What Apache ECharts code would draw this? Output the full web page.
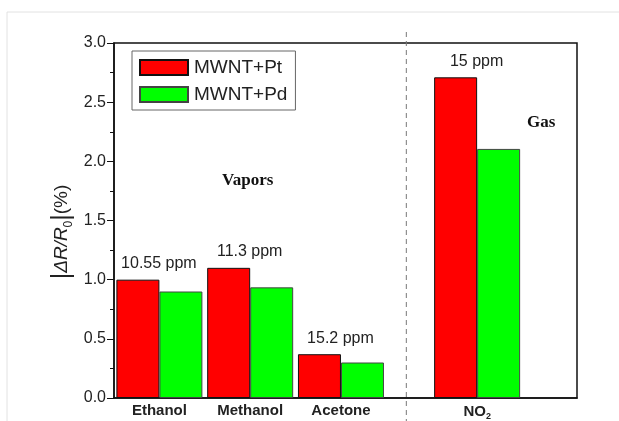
<!DOCTYPE html>
<html><head><meta charset="utf-8">
<script src="https://cdn.jsdelivr.net/npm/echarts@6/dist/echarts.min.js"></script>
<style>html,body{margin:0;padding:0;background:#fff}#c{width:619px;height:421px}</style>
</head><body><div id="c"></div>
<script>
const categories = ['Ethanol', 'Methanol', 'Acetone', 'NO2'];
const categoryPositions = [1, 2, 3, 4.5];
const concentrations = ['10.55 ppm', '11.3 ppm', '15.2 ppm', '15 ppm'];
const ptValues = [1.0, 1.1, 0.37, 2.71];
const pdValues = [0.90, 0.935, 0.30, 2.105];
const yTicks = [0, 0.5, 1.0, 1.5, 2.0, 2.5, 3.0];
const dividerX = 3.72;

const chart = echarts.init(document.getElementById('c'), null, {renderer: 'canvas'});
const font = 'Liberation Sans, Arial, sans-serif';
const labelMap = {};
categoryPositions.forEach((p, i) => labelMap[p] = categories[i]);

function barLabel() {
  return {
    show: true, position: 'top', distance: 8, offset: [21, 0],
    fontFamily: font, fontSize: 16, color: '#222',
    formatter: p => concentrations[p.dataIndex]
  };
}

chart.setOption({
  animation: false,
  grid: {left: 114, right: 42, top: 43, bottom: 22, show: true, borderColor: '#111', borderWidth: 1.5, backgroundColor: 'transparent'},
  legend: {
    orient: 'vertical', left: 132, top: 51,
    padding: [7, 8, 6, 7], itemGap: 8,
    itemWidth: 48, itemHeight: 15, icon: 'rect',
    borderColor: '#666', borderWidth: 1,
    textStyle: {fontFamily: font, fontSize: 19, color: '#222', padding: [0, 0, 0, 1]},
    data: ['MWNT+Pt', 'MWNT+Pd']
  },
  xAxis: {
    type: 'value', min: 0.5, max: 5.6,
    axisLine: {show: true, lineStyle: {color: '#111', width: 1.5}},
    axisTick: {show: false},
    splitLine: {show: false},
    axisLabel: {
      customValues: categoryPositions,
      margin: 5,
      fontFamily: font, fontSize: 15, fontWeight: 'bold', color: '#222',
      formatter: v => labelMap[v] === 'NO2' ? 'NO{sub|2}' : (labelMap[v] || ''),
      rich: {sub: {fontFamily: font, fontSize: 9, fontWeight: 'bold', color: '#222', verticalAlign: 'bottom', padding: [9, 0, 0, 0]}}
    }
  },
  yAxis: {
    type: 'value', min: 0, max: 3, interval: 0.5,
    axisLine: {show: true, lineStyle: {color: '#111', width: 1.5}},
    axisTick: {show: true, inside: false, length: 7, lineStyle: {color: '#111'}},
    minorTick: {show: true, splitNumber: 2, length: 4, lineStyle: {color: '#111'}},
    splitLine: {show: false},
    axisLabel: {
      margin: 8, fontFamily: font, fontSize: 16, color: '#222',
      customValues: yTicks,
      formatter: v => v.toFixed(1)
    }
  },
  series: [
    {
      name: 'MWNT+Pt', type: 'bar', barWidth: 43, barGap: '0%',
      itemStyle: {color: '#ff0000', borderColor: '#111', borderWidth: 1},
      label: barLabel(),
      data: categoryPositions.map((p, i) => [p, ptValues[i]])
    },
    {
      name: 'MWNT+Pd', type: 'bar', barWidth: 43, barGap: '0%',
      itemStyle: {color: '#00ff00', borderColor: '#444', borderWidth: 1},
      data: categoryPositions.map((p, i) => [p, pdValues[i]])
    }
  ]
});

const dx = chart.convertToPixel({xAxisIndex: 0}, dividerX);
chart.setOption({
  graphic: [
    {type: 'line', shape: {x1: 7, y1: 12, x2: 619, y2: 12}, style: {stroke: '#e2e2e2', lineWidth: 1}, silent: true},
    {type: 'line', shape: {x1: 7, y1: 12, x2: 7, y2: 421}, style: {stroke: '#e2e2e2', lineWidth: 1}, silent: true},
    {type: 'line', z: 0, shape: {x1: dx, y1: 32, x2: dx, y2: 421}, style: {stroke: '#777', lineWidth: 1, lineDash: [5, 4]}, silent: true},
    {type: 'text', left: 222, top: 172, style: {text: 'Vapors', font: 'bold 17px "Liberation Serif", "Times New Roman", serif', fill: '#111'}},
    {type: 'text', left: 527, top: 114, style: {text: 'Gas', font: 'bold 17px "Liberation Serif", "Times New Roman", serif', fill: '#111'}},
    {
      type: 'text', x: 62, y: 232, rotation: Math.PI / 2,
      style: {
        text: '{bar||}{i|ΔR/R}{sub|0}{bar||}{n|(%)}',
        align: 'center', verticalAlign: 'middle',
        rich: {
          bar: {fontFamily: font, fontSize: 25, fill: '#222'},
          i: {fontFamily: font, fontSize: 19, fontStyle: 'italic', fill: '#222'},
          sub: {fontFamily: font, fontSize: 12, fill: '#222', verticalAlign: 'bottom', padding: [8, 0, 0, 0]},
          n: {fontFamily: font, fontSize: 19, fill: '#222'}
        }
      }
    }
  ]
});
</script></body></html>
